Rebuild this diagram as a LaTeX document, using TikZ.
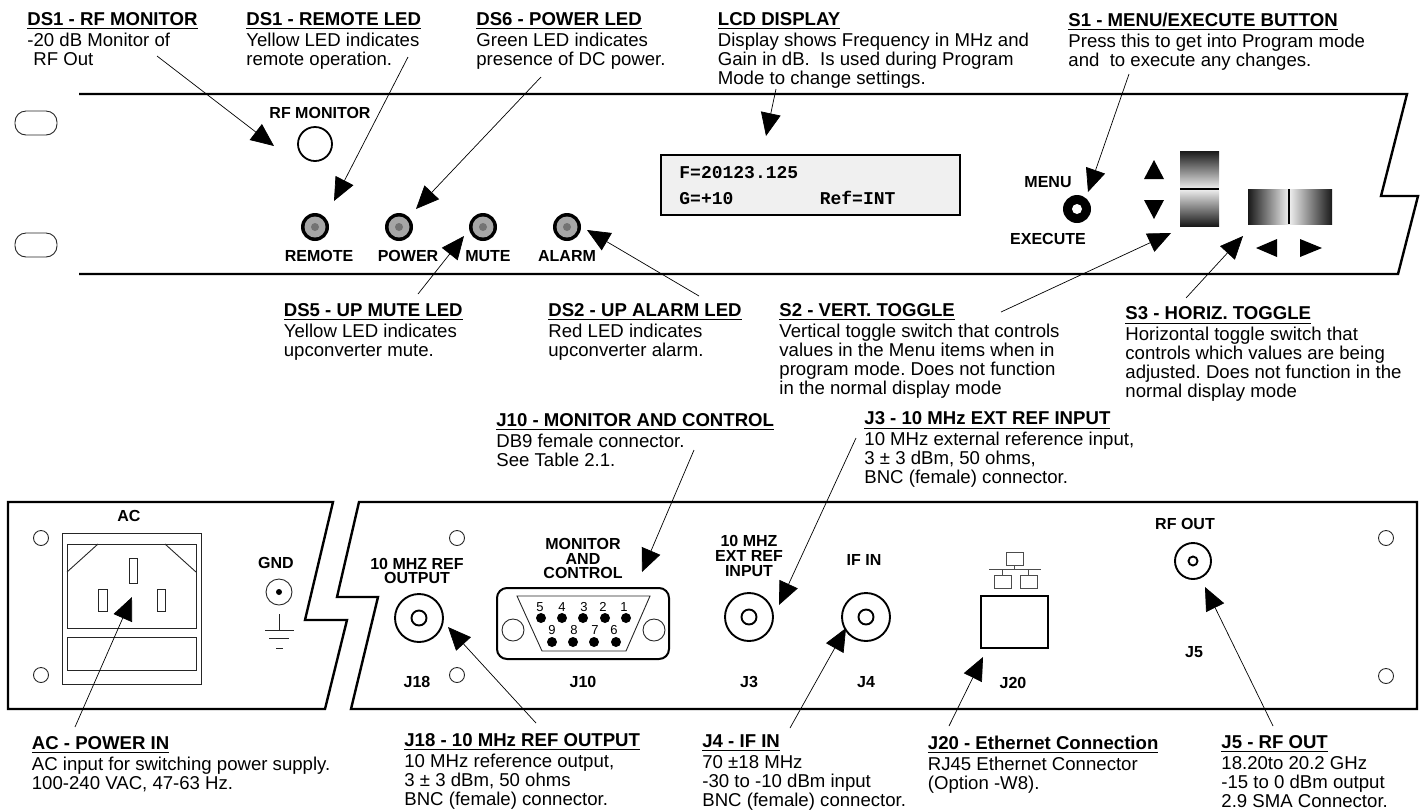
\documentclass[tikz,border=0pt]{standalone}
\usepackage{fontspec}
\setmainfont{Liberation Sans}
\newfontfamily\lcdfont{Liberation Mono}
\usetikzlibrary{arrows.meta}
\frenchspacing

\begin{document}
\begin{tikzpicture}[
        x=0.5pt, y=-0.5pt,
        >={Triangle[length=11.5pt, width=10pt]},
        panel/.style={line width=1.2pt, line join=miter},
        thinpart/.style={line width=0.45pt, draw=black!85},
        callout/.style={->, line width=0.35pt},
        note/.style={anchor=north west, inner sep=0pt, align=left,
                     font=\fontsize{9.3}{9.5}\selectfont},
        tag/.style={inner sep=0pt, align=center,
                    font=\fontsize{8}{7.4}\selectfont\bfseries},
        pinnum/.style={inner sep=0pt, font=\fontsize{6.5}{7}\selectfont},
    ]
        \useasboundingbox (0,0) rectangle (1424,810);

        % front panel
        \draw[panel] (79,94) -- (1407,94) -- (1381,196) -- (1418,196) -- (1398,274) -- (79,274);
        \draw[thinpart, rounded corners=5.5pt] (15,111) rectangle (57,135);
        \draw[thinpart, rounded corners=5.5pt] (15,233) rectangle (57,257);

        \node[tag, anchor=base] (rfmonTag) at (320,118) {RF MONITOR};
        \draw[line width=0.9pt] (315,144) circle[radius=17];

        % LEDs
        \fill[black] (315,227) circle[radius=14] (399,227) circle[radius=14]
            (483,227) circle[radius=14] (567,227) circle[radius=14];
        \fill[black!35] (315,227) circle[radius=10.5] (399,227) circle[radius=10.5]
            (483,227) circle[radius=10.5] (567,227) circle[radius=10.5];
        \fill[black!55] (315,227) circle[radius=4] (399,227) circle[radius=4]
            (483,227) circle[radius=4] (567,227) circle[radius=4];
        \node[tag, anchor=base] (remoteTag) at (319,261) {REMOTE};
        \node[tag, anchor=base] (powerTag) at (408,261) {POWER};
        \node[tag, anchor=base] (muteTag) at (488,261) {MUTE};
        \node[tag, anchor=base] (alarmTag) at (567,261) {ALARM};

        % LCD
        \draw[line width=1pt, fill=black!6] (661,155) rectangle (960,215);
        \node[inner sep=0pt, anchor=base west, font=\fontsize{9}{9}\lcdfont\bfseries] (lcdTop) at (679,178) {F=20123.125};
        \node[inner sep=0pt, anchor=base west, font=\fontsize{9}{9}\lcdfont\bfseries] (lcdBot) at (679,204) {G=+10\ \ \ \ \ \ \ \ Ref=INT};

        % button
        \node[tag] (menuTag) at (1048,182) {MENU};
        \node[tag] (execTag) at (1048,239) {EXECUTE};
        \fill[black] (1077,209) circle[radius=14];
        \fill[white] (1077,209) circle[radius=5];

        % toggles
        \fill (1144,179) -- (1154,160) -- (1164,179) -- cycle;
        \fill (1144,200) -- (1154,219) -- (1164,200) -- cycle;
        \shade[top color=black!90, middle color=black!60, bottom color=black!6] (1180,151) rectangle (1219,189);
        \shade[top color=black!6, middle color=black!60, bottom color=black!90] (1180,189) rectangle (1219,226);
        \draw[line width=1pt] (1180,189) -- (1219,189);
        \shade[left color=black!90, middle color=black!60, right color=black!6] (1248,189) rectangle (1289,224);
        \shade[left color=black!6, middle color=black!60, right color=black!90] (1289,189) rectangle (1332,224);
        \draw[line width=1pt] (1289,189) -- (1289,224);
        \fill (1277,239) -- (1256,248) -- (1277,257) -- cycle;
        \fill (1300,239) -- (1322,248) -- (1300,257) -- cycle;

        % rear panel
        \draw[panel] (8,502) -- (333,502) -- (305,620) -- (347,620) -- (325,709) -- (8,709) -- cycle;
        \draw[panel] (359,502) -- (337,597) -- (378,597) -- (351,709) -- (1417,709) -- (1417,502) -- cycle;
        \draw[thinpart] (41,538) circle[radius=7.5] (41,675) circle[radius=7.5]
            (457,538) circle[radius=7.5] (457,675) circle[radius=7.5]
            (1386,538) circle[radius=7.5] (1386,676) circle[radius=7.5];

        % AC inlet
        \node[tag] (acTag) at (129,516) {AC};
        \draw[thinpart] (62,533) rectangle (201,684);
        \draw[thinpart] (67,544) rectangle (196,628);
        \draw[thinpart] (67,637) rectangle (196,670);
        \draw[thinpart] (67,572) -- (98,544) (165,544) -- (196,572);
        \draw[thinpart] (129,558) rectangle (137,583);
        \draw[thinpart] (98,589) rectangle (107,611);
        \draw[thinpart] (157,589) rectangle (165,611);

        % ground
        \node[tag] (gndTag) at (276,563) {GND};
        \draw[thinpart] (279,592) circle[radius=13];
        \fill (279,592) circle[radius=3];
        \draw[thinpart] (279,614) -- (279,630) (265,630) -- (294,630) (269,638) -- (289,638) (276,648) -- (283,648);

        % coax jacks
        \draw[line width=0.95pt] (419,618) circle[radius=24] (419,618) circle[radius=7.5];
        \draw[line width=0.95pt] (749,617) circle[radius=24] (749,617) circle[radius=7.5];
        \draw[line width=0.95pt] (866,617) circle[radius=24] (866,617) circle[radius=7.5];
        \draw[line width=0.95pt] (1193,561) circle[radius=18] (1193,561) circle[radius=4.5];
        \node[tag] (refoutTag) at (417,571) {10 MHZ REF\\OUTPUT};
        \node[tag] (extrefTag) at (749,556) {10 MHZ\\EXT REF\\INPUT};
        \node[tag] (ifinTag) at (864,560) {IF IN};
        \node[tag] (rfoutTag) at (1185,524) {RF OUT};
        \node[tag] (jeighteen) at (417,682) {J18};
        \node[tag] (jten) at (583,682) {J10};
        \node[tag] (jthree) at (749,682) {J3};
        \node[tag] (jfour) at (866,682) {J4};
        \node[tag] (jtwenty) at (1013,683) {J20};
        \node[tag] (jfive) at (1194,652) {J5};

        % DB9
        \node[tag] (dbTag) at (583,558.5) {MONITOR\\AND\\CONTROL};
        \draw[line width=1pt, rounded corners=5pt] (497,588) rectangle (669,659);
        \draw[thinpart] (517,596) -- (650,596) -- (626,651) -- (542,651) -- cycle;
        \draw[thinpart] (513,630) circle[radius=11] (654,630) circle[radius=11];
        \fill (541,618) circle[radius=5] (562,618) circle[radius=5] (583,618) circle[radius=5]
            (605,618) circle[radius=5] (626,618) circle[radius=5];
        \fill (552,642) circle[radius=5] (573,642) circle[radius=5] (594,642) circle[radius=5]
            (616,642) circle[radius=5];
        \node[pinnum] (pinFive) at (540,607) {5};
        \node[pinnum] (pinFour) at (562,607) {4};
        \node[pinnum] (pinThree) at (584,607) {3};
        \node[pinnum] (pinTwo) at (603,607) {2};
        \node[pinnum] (pinOne) at (624,607) {1};
        \node[pinnum] (pinNine) at (552,630) {9};
        \node[pinnum] (pinEight) at (574,630) {8};
        \node[pinnum] (pinSeven) at (595,630) {7};
        \node[pinnum] (pinSix) at (614,630) {6};

        % ethernet
        \draw[line width=1pt] (981,596) rectangle (1048,648);
        \draw[thinpart, draw=black!70] (1006,552) rectangle (1023,565);
        \draw[thinpart, draw=black!70] (994,575) rectangle (1011,588);
        \draw[thinpart, draw=black!70] (1020,575) rectangle (1037,588);
        \draw[thinpart, draw=black!70] (989,569.5) -- (1041,569.5) (1014.5,565) -- (1014.5,569.5)
            (1002.5,569.5) -- (1002.5,575) (1028.5,569.5) -- (1028.5,575);

        % upper notes
        \node[note] (noteRfmon) at (27,12) {\underline{\textbf{DS1 - RF MONITOR}}\\[1pt]
            -20 dB Monitor of\\\hspace*{3pt}RF Out};
        \node[note] (noteRemote) at (246,12.5) {\underline{\textbf{DS1 - REMOTE LED}}\\[1pt]
            Yellow LED indicates\\remote operation.};
        \node[note] (notePower) at (476,12.5) {\underline{\textbf{DS6 - POWER LED}}\\[1pt]
            Green LED indicates\\presence of DC power.};
        \node[note] (noteLcd) at (717.5,12.5) {\underline{\textbf{LCD DISPLAY}}\\[1pt]
            Display shows Frequency in MHz and\\Gain in dB.\ \ Is used during Program\\Mode to change settings.};
        \node[note] (noteMenu) at (1068,12.5) {\underline{\textbf{S1 - MENU/EXECUTE BUTTON}}\\[1pt]
            Press this to get into Program mode\\and\ \ to execute any changes.};

        % middle notes
        \node[note] (noteMute) at (283.5,303.5) {\underline{\textbf{DS5 - UP MUTE LED}}\\[1pt]
            Yellow LED indicates\\upconverter mute.};
        \node[note] (noteAlarm) at (548,303.5) {\underline{\textbf{DS2 - UP ALARM LED}}\\[1pt]
            Red LED indicates\\upconverter alarm.};
        \node[note] (noteVert) at (779,303.5) {\underline{\textbf{S2 - VERT. TOGGLE}}\\[1pt]
            Vertical toggle switch that controls\\values in the Menu items when in\\program mode. Does not function\\in the normal display mode};
        \node[note] (noteHoriz) at (1125,306.5) {\underline{\textbf{S3 - HORIZ. TOGGLE}}\\[1pt]
            Horizontal toggle switch that\\controls which values are being\\adjusted. Does not function in the\\normal display mode};
        \node[note] (noteDb) at (496,413.5) {\underline{\textbf{J10 - MONITOR AND CONTROL}}\\[1pt]
            DB9 female connector.\\See Table 2.1.};
        \node[note] (noteExt) at (864,411.5) {\underline{\textbf{J3 - 10 MHz EXT REF INPUT}}\\[1pt]
            10 MHz external reference input,\\3 ± 3 dBm, 50 ohms,\\BNC (female) connector.};

        % lower notes
        \node[note] (noteAc) at (31.5,736.5) {\underline{\textbf{AC - POWER IN}}\\[1pt]
            AC input for switching power supply.\\100-240 VAC, 47-63 Hz.};
        \node[note] (noteRefout) at (404,733.5) {\underline{\textbf{J18 - 10 MHz REF OUTPUT}}\\[1pt]
            10 MHz reference output,\\3 ± 3 dBm, 50 ohms\\BNC (female) connector.};
        \node[note] (noteIf) at (702,734.5) {\underline{\textbf{J4 - IF IN}}\\[1pt]
            70 ±18 MHz\\-30 to -10 dBm input\\BNC (female) connector.};
        \node[note] (noteEth) at (927.5,735.5) {\underline{\textbf{J20 - Ethernet Connection}}\\[1pt]
            RJ45 Ethernet Connector\\(Option -W8).};
        \node[note] (noteRfout) at (1221,735.5) {\underline{\textbf{J5 - RF OUT}}\\[1pt]
            18.20to 20.2 GHz\\-15 to 0 dBm output\\2.9 SMA Connector.};

        % callout ends
        \coordinate (fromRfmon) at (157,56);   \coordinate (tipRfmon) at (274,146);
        \coordinate (fromRemote) at (408,57);  \coordinate (tipRemote) at (334,201);
        \coordinate (fromPower) at (541,77);   \coordinate (tipPower) at (416,209);
        \coordinate (fromLcd) at (776,89);     \coordinate (tipLcd) at (766,136);
        \coordinate (fromMenu) at (1129,74);   \coordinate (tipMenu) at (1088,192);
        \coordinate (fromMute) at (418,294);   \coordinate (tipMute) at (464,236);
        \coordinate (fromAlarm) at (699,296);  \coordinate (tipAlarm) at (587,230);
        \coordinate (fromVert) at (1001,312);  \coordinate (tipVert) at (1171,233);
        \coordinate (fromHoriz) at (1186,298); \coordinate (tipHoriz) at (1243,236);
        \coordinate (fromDb) at (694,450);     \coordinate (tipDb) at (642,572);
        \coordinate (fromExt) at (856,438);    \coordinate (tipExt) at (779,605);
        \coordinate (fromRefout) at (536,723); \coordinate (tipRefout) at (448,627);
        \coordinate (fromAc) at (75,727);      \coordinate (tipAc) at (132,597);
        \coordinate (fromIf) at (790,728);     \coordinate (tipIf) at (846,628);
        \coordinate (fromEth) at (949,726);    \coordinate (tipEth) at (983,657);
        \coordinate (fromRfout) at (1273,726); \coordinate (tipRfout) at (1205,587);

        \draw[callout] (fromRfmon) -- (tipRfmon);
        \draw[callout] (fromRemote) -- (tipRemote);
        \draw[callout] (fromPower) -- (tipPower);
        \draw[callout] (fromLcd) -- (tipLcd);
        \draw[callout] (fromMenu) -- (tipMenu);
        \draw[callout] (fromMute) -- (tipMute);
        \draw[callout] (fromAlarm) -- (tipAlarm);
        \draw[callout] (fromVert) -- (tipVert);
        \draw[callout] (fromHoriz) -- (tipHoriz);
        \draw[callout] (fromDb) -- (tipDb);
        \draw[callout] (fromExt) -- (tipExt);
        \draw[callout] (fromRefout) -- (tipRefout);
        \draw[callout] (fromAc) -- (tipAc);
        \draw[callout] (fromIf) -- (tipIf);
        \draw[callout] (fromEth) -- (tipEth);
        \draw[callout] (fromRfout) -- (tipRfout);
    \end{tikzpicture}
\end{document}
